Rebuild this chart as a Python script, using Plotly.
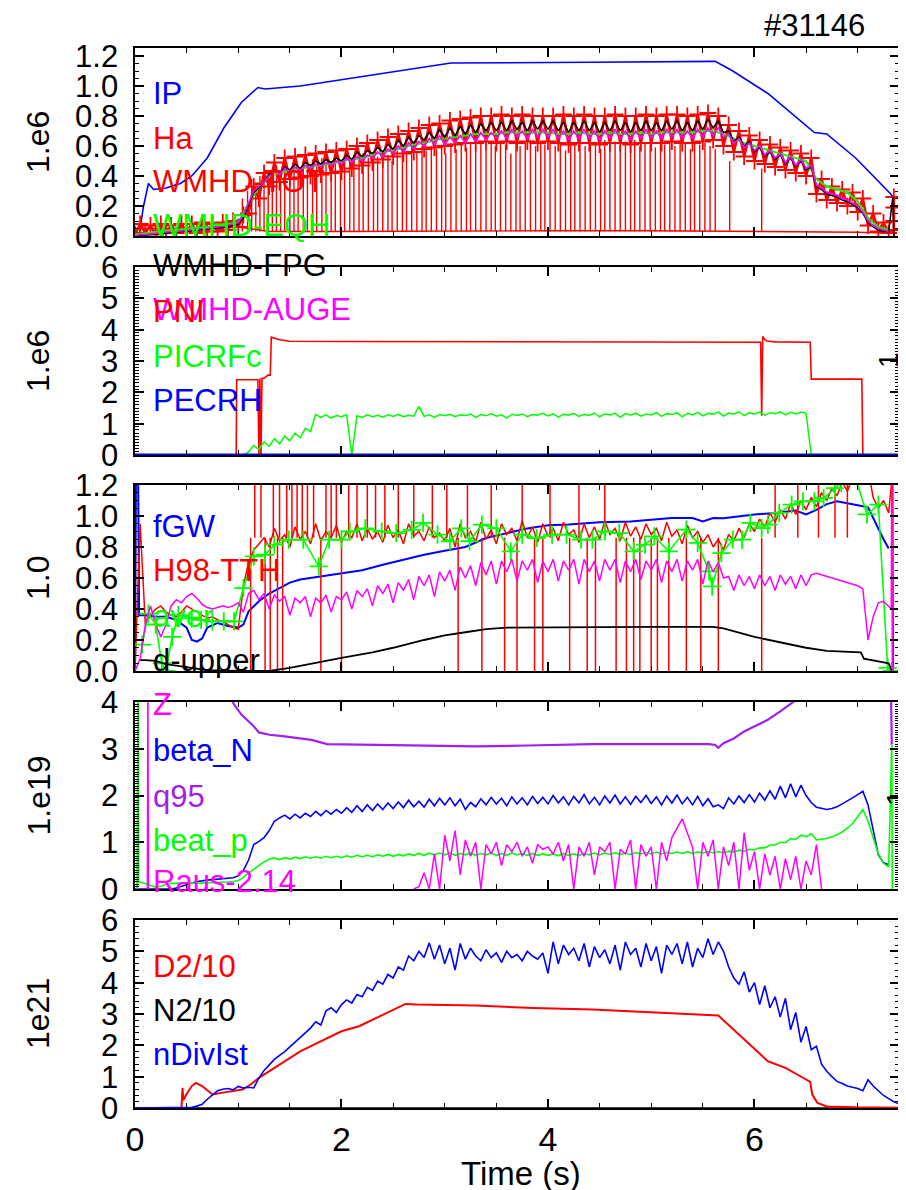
import plotly.graph_objects as go

# ---------------- common time base (s) ----------------
t_grid = [round(i * 0.05, 2) for i in range(148)]   # 0.00 ... 7.35

# ---------------- panel 1 (1.e6) ----------------
ip_t = [0.04, 0.08, 0.13, 0.18, 0.30, 0.44, 0.55, 0.70, 0.86, 1.03, 1.19, 1.26, 1.60, 2.17, 2.73,
        3.06, 4.43, 5.62, 5.79, 6.13, 6.58, 6.70, 6.98, 7.32, 7.35]
ip_v = [0.0, 0.19, 0.35, 0.31, 0.32, 0.35, 0.40, 0.52, 0.72, 0.89, 0.99, 0.98, 1.00, 1.06, 1.12,
        1.153, 1.158, 1.164, 1.10, 0.95, 0.69, 0.68, 0.52, 0.28, 0.25]

ha_base_t = [0.0, 0.5, 1.0, 1.3, 2.0, 3.0, 4.0, 5.0, 6.0, 6.6, 7.0, 7.3]
ha_base_v = [0.05, 0.05, 0.06, 0.03, 0.03, 0.035, 0.035, 0.035, 0.03, 0.03, 0.025, 0.02]
HA_FLOOR = 0.03
ha_spike_t = [1.04, 1.09, 1.13, 1.17, 1.21, 1.25, 1.29, 1.33, 1.37, 1.41,
              1.45, 1.50, 1.54, 1.58, 1.63, 1.67, 1.72, 1.76, 1.81, 1.85,
              1.90, 1.94, 1.99, 2.03, 2.08, 2.12, 2.17, 2.21, 2.26, 2.31,
              2.35, 2.40, 2.45, 2.49, 2.54, 2.59, 2.63, 2.68, 2.73, 2.78,
              2.82, 2.87, 2.92, 2.97, 3.01, 3.06, 3.11, 3.16, 3.21, 3.25,
              3.30, 3.35, 3.40, 3.45, 3.49, 3.54, 3.59, 3.64, 3.69, 3.73,
              3.78, 3.83, 3.88, 3.93, 3.97, 4.02, 4.07, 4.12, 4.17, 4.22,
              4.26, 4.31, 4.36, 4.41, 4.46, 4.51, 4.55, 4.60, 4.65, 4.70,
              4.75, 4.80, 4.84, 4.89, 4.94, 4.99, 5.04, 5.09, 5.13, 5.18,
              5.23, 5.28, 5.33, 5.38, 5.42, 5.47, 5.52, 5.57, 5.62, 5.76, 6.07]
ha_spike_v = [0.25, 0.30, 0.38, 0.33, 0.40, 0.36, 0.44, 0.40, 0.47, 0.43,
              0.48, 0.44, 0.49, 0.46, 0.50, 0.45, 0.51, 0.47, 0.52, 0.48,
              0.50, 0.53, 0.49, 0.52, 0.50, 0.54, 0.51, 0.55, 0.52, 0.56,
              0.53, 0.57, 0.54, 0.50, 0.57, 0.58, 0.55, 0.59, 0.56, 0.60,
              0.57, 0.60, 0.58, 0.61, 0.55, 0.62, 0.58, 0.61, 0.59, 0.62,
              0.60, 0.63, 0.58, 0.62, 0.60, 0.63, 0.61, 0.55, 0.63, 0.60,
              0.62, 0.64, 0.60, 0.63, 0.61, 0.64, 0.60, 0.62, 0.57, 0.63,
              0.61, 0.64, 0.60, 0.63, 0.62, 0.58, 0.64, 0.61, 0.63, 0.60,
              0.63, 0.61, 0.64, 0.60, 0.62, 0.63, 0.59, 0.64, 0.61, 0.63,
              0.60, 0.64, 0.62, 0.58, 0.63, 0.61, 0.62, 0.60, 0.58, 0.50, 0.45]

wmhd_tot = [0.01, 0.08, 0.02, 0.07, 0.01, 0.08, 0.02, 0.07, 0.02, 0.08, 0.03, 0.08, 0.02, 0.09, 0.03, 0.08, 0.03, 0.09, 0.04, 0.10,
            0.06, 0.14, 0.15, 0.33, 0.25, 0.42, 0.33, 0.49, 0.36, 0.52, 0.38, 0.53, 0.39, 0.54, 0.40, 0.55, 0.41, 0.56, 0.42, 0.57,
            0.43, 0.58, 0.45, 0.60, 0.47, 0.62, 0.49, 0.64, 0.51, 0.66, 0.53, 0.68, 0.55, 0.70, 0.56, 0.72, 0.58, 0.74, 0.59, 0.75,
            0.60, 0.77, 0.61, 0.78, 0.62, 0.79, 0.62, 0.80, 0.63, 0.80, 0.62, 0.81, 0.63, 0.80, 0.62, 0.81, 0.63, 0.80, 0.62, 0.80,
            0.63, 0.80, 0.62, 0.81, 0.61, 0.80, 0.62, 0.81, 0.62, 0.80, 0.61, 0.80, 0.62, 0.81, 0.62, 0.80, 0.61, 0.80, 0.62, 0.81,
            0.62, 0.80, 0.62, 0.81, 0.63, 0.81, 0.62, 0.80, 0.62, 0.81, 0.63, 0.82, 0.64, 0.80, 0.60, 0.74, 0.56, 0.70, 0.53, 0.67,
            0.50, 0.64, 0.48, 0.61, 0.46, 0.59, 0.44, 0.57, 0.42, 0.55, 0.40, 0.52, 0.28, 0.38, 0.24, 0.33, 0.22, 0.31, 0.20, 0.29,
            0.16, 0.25, 0.07, 0.15, 0.03, 0.09, 0.02]
tot_end_t = [7.35, 7.35, 7.35, 7.35]
tot_end_v = [0.04, 0.10, 0.19, 0.26]

wmhd_eqh = [0.01, 0.02, 0.03, 0.035, 0.04, 0.05, 0.055, 0.06, 0.07, 0.08,
            0.09, 0.22, 0.32, 0.40, 0.42, 0.44, 0.45, 0.46, 0.47, 0.48,
            0.50, 0.51, 0.52, 0.54, 0.56, 0.57, 0.59, 0.61, 0.62, 0.64,
            0.65, 0.66, 0.67, 0.68, 0.68, 0.68, 0.69, 0.69, 0.69, 0.69,
            0.69, 0.68, 0.68, 0.69, 0.68, 0.68, 0.69, 0.68, 0.68, 0.69,
            0.68, 0.69, 0.69, 0.69, 0.69, 0.70, 0.70, 0.68, 0.65, 0.62,
            0.60, 0.58, 0.56, 0.54, 0.52, 0.50, 0.38, 0.33, 0.31, 0.29,
            0.23, 0.12, 0.06, 0.04]

wmhd_fpg = [0.00, 0.00, 0.005, 0.01, 0.01, 0.015, 0.02, 0.02, 0.025, 0.03, 0.03, 0.035, 0.04, 0.04, 0.045, 0.05, 0.05, 0.055, 0.06, 0.07,
            0.08, 0.12, 0.20, 0.29, 0.32, 0.36, 0.41, 0.44, 0.42, 0.46, 0.44, 0.48, 0.45, 0.49, 0.47, 0.50, 0.48, 0.51, 0.49, 0.52,
            0.50, 0.54, 0.51, 0.56, 0.53, 0.57, 0.55, 0.59, 0.56, 0.61, 0.58, 0.64, 0.60, 0.66, 0.62, 0.67, 0.64, 0.69, 0.65, 0.71,
            0.66, 0.72, 0.67, 0.73, 0.68, 0.74, 0.69, 0.75, 0.70, 0.76, 0.70, 0.76, 0.70, 0.77, 0.71, 0.76, 0.70, 0.77, 0.71, 0.77,
            0.71, 0.77, 0.70, 0.76, 0.69, 0.76, 0.70, 0.77, 0.70, 0.76, 0.69, 0.76, 0.70, 0.77, 0.70, 0.76, 0.69, 0.76, 0.70, 0.77,
            0.70, 0.76, 0.70, 0.77, 0.71, 0.77, 0.70, 0.76, 0.70, 0.77, 0.71, 0.78, 0.72, 0.77, 0.69, 0.70, 0.63, 0.66, 0.60, 0.63,
            0.56, 0.59, 0.53, 0.56, 0.51, 0.54, 0.48, 0.52, 0.46, 0.50, 0.44, 0.46, 0.33, 0.31, 0.28, 0.27, 0.26, 0.24, 0.23, 0.21,
            0.19, 0.15, 0.09, 0.06, 0.04, 0.03, 0.03]
fpg_end_t = [7.34, 7.35]
fpg_end_v = [0.26, 0.0]

wmhd_auge = [0.00, 0.01, 0.01, 0.015, 0.02, 0.02, 0.025, 0.03, 0.03, 0.035, 0.04, 0.04, 0.045, 0.05, 0.05, 0.055, 0.06, 0.065, 0.07, 0.08,
             0.09, 0.14, 0.22, 0.30, 0.33, 0.36, 0.40, 0.43, 0.41, 0.45, 0.43, 0.46, 0.44, 0.47, 0.45, 0.48, 0.46, 0.49, 0.47, 0.50,
             0.48, 0.52, 0.49, 0.53, 0.50, 0.54, 0.52, 0.56, 0.53, 0.58, 0.55, 0.60, 0.56, 0.62, 0.58, 0.63, 0.60, 0.65, 0.61, 0.67,
             0.61, 0.66, 0.62, 0.67, 0.62, 0.68, 0.63, 0.69, 0.64, 0.69, 0.65, 0.70, 0.65, 0.71, 0.66, 0.70, 0.65, 0.71, 0.66, 0.71,
             0.66, 0.71, 0.65, 0.70, 0.64, 0.70, 0.65, 0.71, 0.65, 0.70, 0.64, 0.70, 0.65, 0.71, 0.65, 0.70, 0.64, 0.70, 0.65, 0.71,
             0.65, 0.70, 0.65, 0.71, 0.66, 0.71, 0.65, 0.70, 0.65, 0.71, 0.66, 0.72, 0.67, 0.72, 0.66, 0.68, 0.62, 0.65, 0.59, 0.62,
             0.57, 0.60, 0.54, 0.57, 0.52, 0.55, 0.49, 0.53, 0.47, 0.51, 0.45, 0.47, 0.34, 0.32, 0.29, 0.28, 0.27, 0.25, 0.24, 0.22,
             0.20, 0.16, 0.10, 0.07, 0.05, 0.04, 0.03]

# ---------------- panel 2 (1.e6) ----------------
pni_t = [0.0, 0.98, 0.985, 1.19, 1.20, 1.21, 1.22, 1.23, 1.25, 1.29, 1.31, 1.32, 1.40, 1.50, 2.0, 3.0, 4.0, 5.0,
         6.0, 6.06, 6.07, 6.08, 6.10, 6.12, 6.20, 6.54, 6.55, 7.04, 7.05, 7.4]
pni_v = [0.0, 0.0, 2.40, 2.40, 0.0, 2.45, 0.0, 2.45, 2.45, 2.55, 2.55, 3.76, 3.68, 3.63, 3.62, 3.61, 3.61, 3.61,
         3.60, 3.60, 1.25, 3.78, 3.68, 3.64, 3.61, 3.60, 2.42, 2.42, 0.0, 0.0]

picrf = [0.0] * 20 + [
    0.0, 0.0, 0.10, 0.30, 0.18, 0.42, 0.28, 0.52, 0.36, 0.60, 0.45, 0.70, 0.55, 0.85, 0.75, 1.30, 1.20, 1.28, 1.18, 1.26,
    1.22, 1.28, 0.0, 1.25, 1.20, 1.28, 1.22, 1.27, 1.21, 1.28, 1.23, 1.30, 1.22, 1.27, 1.24, 1.55, 1.23, 1.28, 1.20, 1.29,
    1.25, 1.30, 1.22, 1.28, 1.26, 1.31, 1.20, 1.29, 1.25, 1.32, 1.24, 1.28, 1.18, 1.30, 1.26, 1.31, 1.22, 1.29, 1.27, 1.33,
    1.25, 1.31, 1.21, 1.30, 1.27, 1.33, 1.23, 1.30, 1.26, 1.34, 1.22, 1.31, 1.28, 1.33, 1.20, 1.32, 1.27, 1.34, 1.24, 1.31,
    1.28, 1.35, 1.23, 1.32, 1.29, 1.35, 1.22, 1.33, 1.28, 1.36, 1.25, 1.33, 1.30, 1.37, 1.24, 1.34, 1.30, 1.38, 1.26, 1.35,
    1.31, 1.37, 1.27, 1.35, 1.32, 1.38, 1.28, 1.36, 1.31, 1.37, 1.33, 0.0, 0.0, 0.0, 0.0, 0.0, 0.0, 0.0, 0.0, 0.0,
    0.0, 0.0, 0.0, 0.0, 0.0, 0.0, 0.0, 0.0]

pecrh_t = [0.0, 7.4]
pecrh_v = [0.0, 0.0]

# ---------------- panel 3 (1.0) ----------------
fgw_t = [0.0, 0.01, 0.03, 0.04, 0.10, 0.20, 0.30, 0.40, 0.50, 0.55, 0.60, 0.65, 0.70, 0.80,
         0.90, 1.00, 1.05, 1.10, 1.20, 1.30, 1.40, 1.50, 1.60, 1.80, 2.00, 2.20, 2.40, 2.60, 2.80,
         3.00, 3.20, 3.40, 3.60, 3.80, 4.00, 4.20, 4.50, 4.80, 5.00, 5.20, 5.40, 5.50, 5.60, 5.70,
         6.00, 6.20, 6.40, 6.50, 6.60, 6.70, 6.80, 6.90, 7.00, 7.10, 7.15, 7.20, 7.25, 7.30]
fgw_v = [0.0, 1.30, 1.30, 0.36, 0.36, 0.35, 0.35, 0.33, 0.28, 0.20, 0.19, 0.21, 0.28, 0.31,
         0.29, 0.28, 0.30, 0.385, 0.45, 0.50, 0.535, 0.57, 0.59, 0.61, 0.63, 0.65, 0.686, 0.72, 0.75,
         0.776, 0.80, 0.858, 0.89, 0.92, 0.94, 0.945, 0.96, 0.965, 0.976, 0.987, 0.987, 0.965, 0.987, 0.985,
         1.01, 1.02, 1.035, 1.01, 1.04, 1.077, 1.095, 1.084, 1.07, 1.056, 0.987, 0.91, 0.85, 0.79]

h98 = [0.00, 0.95, 0.30, 0.36, 0.40, 0.42, 0.38, 0.36, 0.35, 0.38, 0.42, 0.40, 0.38, 0.36, 0.34, 0.35, 0.33, 0.32, 0.30, 0.28,
       0.27, 0.55, 0.70, 0.78, 0.82, 0.86, 0.80, 0.92, 0.84, 0.88, 0.80, 0.93, 0.85, 0.90, 0.82, 0.95, 0.84, 0.90, 0.86, 0.94,
       0.83, 0.90, 0.86, 0.95, 0.84, 0.92, 0.85, 0.90, 0.83, 0.94, 0.86, 0.91, 0.82, 0.95, 0.87, 0.90, 0.84, 0.93, 0.86, 0.89,
       0.84, 0.92, 0.80, 0.95, 0.86, 0.90, 0.83, 0.96, 0.85, 0.91, 0.82, 0.95, 0.88, 0.92, 0.84, 0.97, 0.86, 0.93, 0.83, 0.95,
       0.87, 0.92, 0.84, 0.96, 0.88, 0.91, 0.83, 0.95, 0.86, 0.93, 0.85, 0.97, 0.88, 0.92, 0.84, 0.96, 0.87, 0.93, 0.85, 0.95,
       0.88, 0.92, 0.84, 0.96, 0.87, 0.91, 0.82, 0.94, 0.86, 0.90, 0.83, 0.88, 0.80, 0.85, 0.78, 0.88, 0.84, 0.92, 0.86, 0.95,
       0.90, 0.98, 0.93, 1.02, 0.96, 1.04, 0.98, 1.08, 1.01, 1.10, 1.04, 1.12, 1.06, 1.15, 1.10, 1.18, 1.13, 1.22, 1.16, 1.25,
       1.20, 1.30, 1.30, 1.12, 1.05, 1.10, 1.02]
h98_drop_t = [1.12, 1.26, 1.31, 1.38, 1.43, 1.80, 2.00, 3.13, 3.36, 3.58, 3.70, 3.87, 3.95, 4.21, 4.38, 4.46,
              4.66, 4.76, 4.83, 4.89, 5.00, 5.06, 5.17, 5.34, 5.48, 5.65, 6.07]
h98_up_t = [1.16, 1.22, 1.34, 1.40, 1.47, 1.52, 1.57, 1.62, 1.67, 1.73, 1.85, 1.90, 1.95, 2.07, 2.15, 2.25,
            2.33, 2.42, 2.55, 2.70, 2.88, 3.02, 3.22, 3.45, 3.75, 4.02, 4.30, 4.55, 6.20, 6.42, 6.62, 6.78, 6.90]
H98_SPIKE_BASE = 0.86
H98_CLIP = 1.3
h98_end_t = [7.34, 7.345]
h98_end_v = [1.30, 0.0]

aver_t = [0.07, 0.13, 0.20, 0.26, 0.30, 0.36, 0.42, 0.55, 0.64, 0.75, 0.86, 0.96, 1.05, 1.15, 1.26, 1.35, 1.49, 1.63,
          1.78, 1.88, 2.00, 2.08, 2.23, 2.39, 2.53, 2.68, 2.79, 2.93, 3.05, 3.16, 3.24, 3.36, 3.50, 3.64, 3.75, 3.89,
          4.04, 4.18, 4.32, 4.43, 4.55, 4.69, 4.83, 4.94, 5.03, 5.17, 5.34, 5.45, 5.56, 5.59, 5.68, 5.79, 5.88, 5.96,
          6.07, 6.13, 6.24, 6.36, 6.47, 6.58, 6.67, 6.78, 6.84, 6.93, 7.09, 7.20, 7.29, 7.33]
aver_v = [0.17, 0.37, 0.30, 0.05, 0.0, 0.22, 0.36, 0.34, 0.33, 0.32, 0.32, 0.32, 0.535, 0.74, 0.75, 0.815, 0.847, 0.847,
          0.675, 0.847, 0.847, 0.90, 0.92, 0.90, 0.89, 0.91, 0.955, 0.88, 0.837, 0.92, 0.837, 0.944, 0.92, 0.772, 0.88, 0.858,
          0.88, 0.88, 0.847, 0.847, 0.90, 0.89, 0.772, 0.815, 0.869, 0.772, 0.912, 0.826, 0.643, 0.546, 0.761, 0.847, 0.847, 0.955,
          0.922, 0.944, 1.02, 1.073, 1.095, 1.095, 1.116, 1.18, 1.213, 1.35, 1.01, 1.073, 0.02, 0.0]

dup_t = [0.05, 0.10, 0.20, 0.30, 0.40, 0.50, 0.60, 0.70, 1.00, 1.30, 1.50, 1.80, 2.00, 2.30, 2.50, 2.80, 3.00,
         3.20, 3.40, 3.60, 4.00, 5.00, 5.60, 5.70, 6.00, 6.30, 6.50, 6.70, 7.00, 7.03, 7.06, 7.20, 7.30, 7.33]
dup_v = [0.07, 0.07, 0.065, 0.045, 0.035, 0.025, 0.015, 0.005, 0.0, 0.0, 0.02, 0.06, 0.085, 0.12, 0.15, 0.20, 0.23,
         0.25, 0.27, 0.28, 0.282, 0.285, 0.285, 0.275, 0.22, 0.18, 0.15, 0.13, 0.12, 0.12, 0.08, 0.065, 0.05, 0.0]

z_v = [0.00, 0.08, 0.30, 0.42, 0.30, 0.22, 0.30, 0.42, 0.46, 0.44, 0.48, 0.50, 0.47, 0.43, 0.41, 0.40, 0.41, 0.42, 0.41, 0.42,
       0.44, 0.38, 0.50, 0.52, 0.46, 0.50, 0.40, 0.49, 0.45, 0.48, 0.36, 0.47, 0.44, 0.48, 0.35, 0.47, 0.44, 0.49, 0.38, 0.48,
       0.46, 0.51, 0.40, 0.52, 0.48, 0.53, 0.42, 0.55, 0.50, 0.56, 0.44, 0.57, 0.52, 0.59, 0.46, 0.61, 0.55, 0.62, 0.48, 0.64,
       0.58, 0.65, 0.52, 0.67, 0.60, 0.68, 0.55, 0.70, 0.62, 0.71, 0.56, 0.71, 0.64, 0.72, 0.58, 0.71, 0.65, 0.72, 0.57, 0.71,
       0.64, 0.72, 0.58, 0.71, 0.65, 0.72, 0.56, 0.72, 0.64, 0.71, 0.58, 0.72, 0.65, 0.72, 0.57, 0.71, 0.64, 0.72, 0.59, 0.71,
       0.65, 0.72, 0.57, 0.71, 0.64, 0.72, 0.58, 0.71, 0.65, 0.72, 0.56, 0.71, 0.64, 0.70, 0.60, 0.61, 0.52, 0.62, 0.55, 0.61,
       0.53, 0.62, 0.55, 0.61, 0.52, 0.62, 0.56, 0.61, 0.53, 0.62, 0.55, 0.62, 0.63, 0.62, 0.61, 0.60, 0.59, 0.58, 0.57, 0.56,
       0.55, 0.53, 0.20, 0.35, 0.44, 0.45, 0.42]
z_end_t = [7.325, 7.33, 7.335]
z_end_v = [0.40, 1.30, 0.0]

# ---------------- panel 4 (1.e19) ----------------
q95_t = [0.90, 0.95, 1.03, 1.15, 1.20, 1.30, 1.43, 1.60, 1.71, 1.86, 2.17, 2.5, 3.0, 3.3, 3.8, 4.43, 5.0, 5.56,
         5.62, 5.65, 5.70, 5.80, 5.90, 6.00, 6.13, 6.25, 6.36, 6.50, 7.00, 7.32, 7.33]
q95_v = [4.6, 3.98, 3.73, 3.48, 3.35, 3.30, 3.27, 3.22, 3.19, 3.10, 3.09, 3.08, 3.06, 3.05, 3.07, 3.10, 3.10, 3.10,
         3.08, 3.02, 3.12, 3.22, 3.37, 3.48, 3.62, 3.80, 3.98, 4.2, 4.6, 4.6, 3.09]

beta_n = [0.00, 0.00, 0.00, 0.00, 0.00, 0.00, 0.00, 0.00, 0.02, 0.06, 0.09, 0.13, 0.16, 0.18, 0.19, 0.20, 0.21, 0.22, 0.23, 0.24,
          0.28, 0.40, 0.62, 0.95, 1.02, 1.10, 1.25, 1.45, 1.52, 1.58, 1.50, 1.60, 1.52, 1.62, 1.55, 1.66, 1.57, 1.68, 1.60, 1.70,
          1.62, 1.74, 1.64, 1.78, 1.66, 1.80, 1.68, 1.82, 1.70, 1.84, 1.72, 1.86, 1.74, 1.90, 1.76, 1.88, 1.75, 1.92, 1.78, 1.94,
          1.80, 1.95, 1.78, 1.92, 1.70, 1.85, 1.76, 1.93, 1.80, 1.96, 1.82, 1.94, 1.78, 1.97, 1.82, 1.95, 1.80, 1.98, 1.83, 1.96,
          1.82, 2.00, 1.84, 1.97, 1.80, 1.98, 1.84, 2.02, 1.82, 1.96, 1.80, 1.99, 1.84, 2.01, 1.82, 1.97, 1.81, 1.98, 1.85, 2.00,
          1.83, 1.97, 1.80, 1.99, 1.84, 2.01, 1.82, 1.96, 1.80, 1.98, 1.78, 1.93, 1.76, 1.80, 1.72, 1.95, 1.82, 1.99, 1.85, 2.02,
          1.86, 2.05, 1.90, 2.10, 1.92, 2.20, 1.95, 2.25, 1.97, 2.22, 2.00, 1.85, 1.75, 1.72, 1.70, 1.72, 1.76, 1.82, 1.88, 1.95,
          2.02, 2.09, 1.80, 1.23, 0.73, 0.56, 0.52]

beat_p_start_t = [0.02, 0.03, 0.035]
beat_p_start_v = [0.0, 4.5, 0.15]
beat_p = [0.15, 0.12, 0.08, 0.04, 0.06, 0.10, 0.12, 0.12, 0.12, 0.12, 0.12, 0.13, 0.13, 0.13, 0.14, 0.14, 0.15, 0.15, 0.16,
          0.18, 0.25, 0.35, 0.42, 0.50, 0.58, 0.64, 0.66, 0.63, 0.67, 0.64, 0.68, 0.65, 0.69, 0.66, 0.69, 0.66, 0.70, 0.67, 0.70,
          0.67, 0.71, 0.68, 0.72, 0.69, 0.72, 0.69, 0.73, 0.70, 0.74, 0.70, 0.74, 0.71, 0.75, 0.72, 0.76, 0.72, 0.77, 0.73, 0.77,
          0.73, 0.77, 0.72, 0.76, 0.73, 0.77, 0.72, 0.76, 0.73, 0.77, 0.72, 0.76, 0.72, 0.77, 0.73, 0.76, 0.72, 0.76, 0.72, 0.75,
          0.72, 0.75, 0.71, 0.76, 0.72, 0.75, 0.72, 0.76, 0.73, 0.77, 0.73, 0.77, 0.74, 0.78, 0.74, 0.77, 0.74, 0.78, 0.75, 0.78,
          0.75, 0.79, 0.75, 0.78, 0.76, 0.79, 0.76, 0.80, 0.76, 0.79, 0.77, 0.80, 0.77, 0.80, 0.77, 0.81, 0.79, 0.83, 0.81, 0.85,
          0.84, 0.88, 0.88, 0.94, 0.94, 1.00, 0.99, 1.08, 1.06, 1.15, 1.12, 1.18, 1.05, 1.06, 1.08, 1.12, 1.16, 1.22, 1.30, 1.40,
          1.55, 1.70, 1.45, 1.10, 0.75, 0.55, 0.47]
beat_p_end_t = [7.33, 7.335]
beat_p_end_v = [3.09, 0.0]

raus_start_t = [0.12, 0.125, 0.13]
raus_start_v = [0.0, 4.5, 0.0]
raus = [0.0, 0.05, 0.35, 0.0, 0.75, 0.0,
        1.15, 0.6, 1.25, 0.3, 1.05, 0.7, 1.0, 0.0, 0.95, 0.75, 1.0, 0.5, 0.95, 0.8, 1.0, 0.7, 0.9, 0.55, 0.95, 0.85,
        0.9, 0.75, 1.0, 0.6, 0.95, 0.0, 0.9, 0.7, 1.0, 0.3, 0.9, 0.8, 1.0, 0.0, 0.85, 0.75, 1.05, 0.0, 0.95, 0.7,
        0.9, 0.0, 1.0, 0.6, 1.1, 1.3, 1.5, 1.2, 0.9, 0.0, 1.0, 0.7, 1.05, 0.0, 0.9, 0.5, 1.0, 0.0, 1.2, 0.4,
        0.8, 0.0, 0.75, 0.3, 0.7, 0.0, 0.65, 0.2, 0.7, 0.0, 0.6, 0.3, 0.95, 0.0]

# ---------------- panel 5 (1e21) ----------------
d2_t = [0.0, 0.45, 0.46, 0.47, 0.50, 0.55, 0.59, 0.65, 0.75, 0.85, 0.92, 1.04, 1.12, 1.20, 1.60, 2.00, 2.17,
        2.62, 2.73, 3.30, 3.86, 4.43, 5.00, 5.62, 5.65, 6.13, 6.30, 6.50, 6.54, 6.56, 6.61, 6.70, 6.98, 7.40]
d2_v = [0.0, 0.0, 0.64, 0.25, 0.45, 0.70, 0.80, 0.70, 0.43, 0.50, 0.53, 0.59, 0.75, 0.96, 1.81, 2.45, 2.61,
        3.32, 3.30, 3.27, 3.19, 3.14, 3.06, 2.96, 2.95, 1.49, 1.28, 0.91, 0.83, 0.43, 0.16, 0.05, 0.02, 0.01]

n2_t = [0.0, 7.4]
n2_v = [0.0, 0.0]

ndiv = [0, 0, 0, 0, 0, 0, 0, 0, 0, 0, 0.0, 0.02, 0.06, 0.12, 0.28, 0.43, 0.55, 0.60, 0.62, 0.58,
        0.69, 0.64, 0.66, 0.64, 0.95, 1.20, 1.38, 1.55, 1.68, 1.80, 1.95, 2.10, 2.24, 2.40, 2.55, 2.75, 2.65, 3.10, 3.20, 3.05,
        3.30, 3.45, 3.35, 3.62, 3.55, 3.85, 3.75, 4.05, 3.95, 4.26, 4.15, 4.50, 4.40, 4.85, 4.70, 5.00, 4.80, 5.27, 4.75, 5.20,
        4.60, 5.10, 4.40, 5.25, 4.75, 5.10, 4.85, 4.70, 5.05, 4.80, 4.95, 4.65, 5.00, 4.80, 4.90, 4.70, 5.00, 4.85, 4.75, 4.95,
        4.30, 5.30, 4.60, 5.20, 4.90, 5.10, 4.70, 5.25, 4.50, 5.15, 4.80, 5.05, 4.60, 5.20, 4.40, 5.30, 4.90, 5.10, 4.50, 5.25,
        4.70, 5.15, 4.30, 5.20, 4.90, 5.25, 4.60, 5.30, 4.50, 5.10, 4.80, 5.40, 4.90, 5.30, 5.00, 4.50, 4.15, 3.95, 4.35, 3.70,
        4.00, 3.30, 3.90, 3.20, 3.55, 2.90, 3.50, 2.50, 3.05, 2.10, 2.60, 1.86, 1.97, 1.40, 1.17, 1.00, 0.85, 0.78, 0.70, 0.66,
        0.62, 0.55, 0.90, 0.70, 0.55, 0.40, 0.30, 0.20]
ndiv_end_t = [7.40, 7.45]
ndiv_end_v = [0.13, 0.12]

# ---------------- texts ----------------
panel_titles = ["1.e6", "1.e6", "1.0", "1.e19", "1e21"]
series_labels = [
    ("IP", "#0000ff", 85), ("Ha", "#ff0000", 130), ("WMHD-TOT", "#ff0000", 174), ("WMHD-EQH", "#00ff00", 218),
    ("WMHD-FPG", "#000000", 258), ("WMHD-AUGE", "#ff00ff", 302), ("PNI", "#ff0000", 303),
    ("PICRFc", "#00ff00", 348), ("PECRH", "#0000ff", 392),
    ("fGW", "#0000ff", 518), ("H98-TTH", "#ff0000", 563), ("aver", "#00ff00", 609), ("d-upper", "#000000", 653),
    ("Z", "#ff00ff", 696), ("beta_N", "#0000ff", 742), ("q95", "#a020f0", 788), ("beat_p", "#00ff00", 832),
    ("Raus-2.14", "#ff00ff", 874), ("D2/10", "#ff0000", 958), ("N2/10", "#000000", 1002), ("nDivIst", "#0000ff", 1046),
]
shot_label = "#31146"
x_title = "Time (s)"

# ---------------- layout geometry ----------------
W, H = 906, 1190
L, R, T, B = 127, 15, 40, 90
PW, PH = W - L - R, H - T - B
panel_px = [(40, 228), (259, 447), (477, 663), (694, 881), (912, 1100)]


def px_x(x):
    return (x - L) / PW


def px_y(y):
    return (H - B - y) / PH


BLUE, RED, GREEN, BLACK, MAG, PURP = "#0000ff", "#ff0000", "#00ff00", "#000000", "#ff00ff", "#a020f0"
FONT = "Liberation Sans, Arial, Helvetica, sans-serif"

fig = go.Figure()


def add(panel, x, y, color, width=1.6, **kw):
    sfx = "" if panel == 1 else str(panel)
    fig.add_trace(go.Scatter(x=x, y=y, mode=kw.pop("mode", "lines"), line=dict(color=color, width=width),
                             xaxis="x" + sfx, yaxis="y" + sfx, showlegend=False, hoverinfo="skip", **kw))


def vsegs(times, y0, y1s):
    xs, ys = [], []
    for t, y1 in zip(times, y1s):
        xs += [t, t, None]
        ys += [y0, y1, None]
    return xs, ys


# panel 1
add(1, ip_t, ip_v, BLUE, 1.6)
add(1, ha_base_t, ha_base_v, RED, 1.4)
ha_x, ha_y = vsegs(ha_spike_t, HA_FLOOR, ha_spike_v)
add(1, ha_x, ha_y, RED, 1.4)
add(1, t_grid[:len(wmhd_tot)] + tot_end_t, wmhd_tot + tot_end_v, RED, 2.6, mode="lines+markers",
    marker=dict(symbol="cross-thin", size=12, line=dict(color=RED, width=1.8)))
add(1, t_grid[::2][:len(wmhd_eqh)], wmhd_eqh, GREEN, 2.0)
add(1, t_grid[:len(wmhd_fpg)] + fpg_end_t, wmhd_fpg + fpg_end_v, BLACK, 1.5)
add(1, t_grid[:len(wmhd_auge)], wmhd_auge, MAG, 1.6)

# panel 2
add(2, pni_t, pni_v, RED, 1.6)
add(2, t_grid[:len(picrf)], picrf, GREEN, 1.5)
add(2, pecrh_t, pecrh_v, BLUE, 3.0)

# panel 3
add(3, fgw_t, fgw_v, BLUE, 2.0)
add(3, t_grid[:len(h98)] + h98_end_t, h98 + h98_end_v, RED, 1.5)
dx, dy = vsegs(h98_drop_t, H98_SPIKE_BASE, [0.0] * len(h98_drop_t))
ux, uy = vsegs(h98_up_t, H98_SPIKE_BASE, [H98_CLIP] * len(h98_up_t))
add(3, dx + ux, dy + uy, RED, 1.5)
add(3, aver_t, aver_v, GREEN, 1.6, mode="lines+markers",
    marker=dict(symbol="cross-thin", size=13, line=dict(color=GREEN, width=1.8)))
add(3, dup_t, dup_v, BLACK, 1.8)
add(3, t_grid[:len(z_v)] + z_end_t, z_v + z_end_v, MAG, 1.5)

# panel 4
add(4, t_grid[:len(beta_n)], beta_n, BLUE, 1.6)
add(4, q95_t, q95_v, PURP, 2.2)
add(4, beat_p_start_t + t_grid[1:1 + len(beat_p)] + beat_p_end_t, beat_p_start_v + beat_p + beat_p_end_v, GREEN, 1.6)
add(4, raus_start_t + [None] + t_grid[54:54 + len(raus)], raus_start_v + [None] + raus, MAG, 1.5)

# panel 5
add(5, n2_t, n2_v, BLACK, 1.5)
add(5, d2_t, d2_v, RED, 2.0)
add(5, t_grid[:len(ndiv)] + ndiv_end_t, ndiv + ndiv_end_v, BLUE, 1.6)

y_specs = [
    dict(range=[0, 1.2533], dtick=0.2, minor=0.05, fmt=".1f"),
    dict(range=[0, 6], dtick=1, minor=0.1, fmt="d"),
    dict(range=[0, 1.2], dtick=0.2, minor=0.05, fmt=".1f"),
    dict(range=[0, 4], dtick=1, minor=0.05, fmt="d"),
    dict(range=[0, 6], dtick=1, minor=0.2, fmt="d"),
]

layout = dict(width=W, height=H, margin=dict(l=L, r=R, t=T, b=B), paper_bgcolor="white", plot_bgcolor="white",
              font=dict(family=FONT, color="black"), showlegend=False)
for i in range(5):
    sfx = "" if i == 0 else str(i + 1)
    top, bot = panel_px[i]
    common = dict(showline=True, linewidth=2, linecolor="black", mirror="ticks", ticks="inside",
                  tickwidth=1.5, tickcolor="black", showgrid=False, zeroline=False)
    layout["xaxis" + sfx] = dict(common, domain=[0, 1], range=[0, 7.4], tick0=0, dtick=2, ticklen=9,
                                 minor=dict(dtick=0.5, tick0=0, ticks="inside", ticklen=5, tickwidth=1.2,
                                            tickcolor="black", showgrid=False),
                                 anchor="y" + sfx, showticklabels=(i == 4),
                                 tickfont=dict(size=34, family=FONT), ticklabelstandoff=0)
    ys = y_specs[i]
    layout["yaxis" + sfx] = dict(common, domain=[px_y(bot), px_y(top)], range=ys["range"], tick0=0,
                                 dtick=ys["dtick"], ticklen=9, tickformat=ys["fmt"], ticksuffix="\u00a0",
                                 minor=dict(dtick=ys["minor"], tick0=0, ticks="inside", ticklen=4, tickwidth=1,
                                            tickcolor="black", showgrid=False),
                                 anchor="x" + sfx, tickfont=dict(size=31, family=FONT))

annotations = []
for (txt, col, ypx) in series_labels:
    annotations.append(dict(text=txt, x=px_x(143), y=px_y(ypx), xref="paper", yref="paper", xanchor="left",
                            yanchor="middle", showarrow=False, font=dict(size=31, color=col, family=FONT)))
for i, txt in enumerate(panel_titles):
    top, bot = panel_px[i]
    annotations.append(dict(text=txt, x=px_x(30), y=px_y((top + bot) / 2), xref="paper", yref="paper",
                            xanchor="center", yanchor="middle", textangle=-90, showarrow=False,
                            font=dict(size=32, color="black", family=FONT)))
annotations.append(dict(text=shot_label, x=px_x(806), y=px_y(17), xref="paper", yref="paper", xanchor="center",
                        yanchor="middle", showarrow=False, font=dict(size=31, color="black", family=FONT)))
annotations.append(dict(text=x_title, x=px_x(513), y=px_y(1165), xref="paper", yref="paper", xanchor="center",
                        yanchor="middle", showarrow=False, font=dict(size=33, color="black", family=FONT)))
for (xx, yy) in [(880, 352), (888, 790)]:
    annotations.append(dict(text="1", x=px_x(xx), y=px_y(yy), xref="paper", yref="paper", xanchor="center",
                            yanchor="middle", textangle=-90, showarrow=False,
                            font=dict(size=28, color="black", family=FONT)))
layout["annotations"] = annotations

fig.update_layout(**layout)
fig.write_html("out.html")
